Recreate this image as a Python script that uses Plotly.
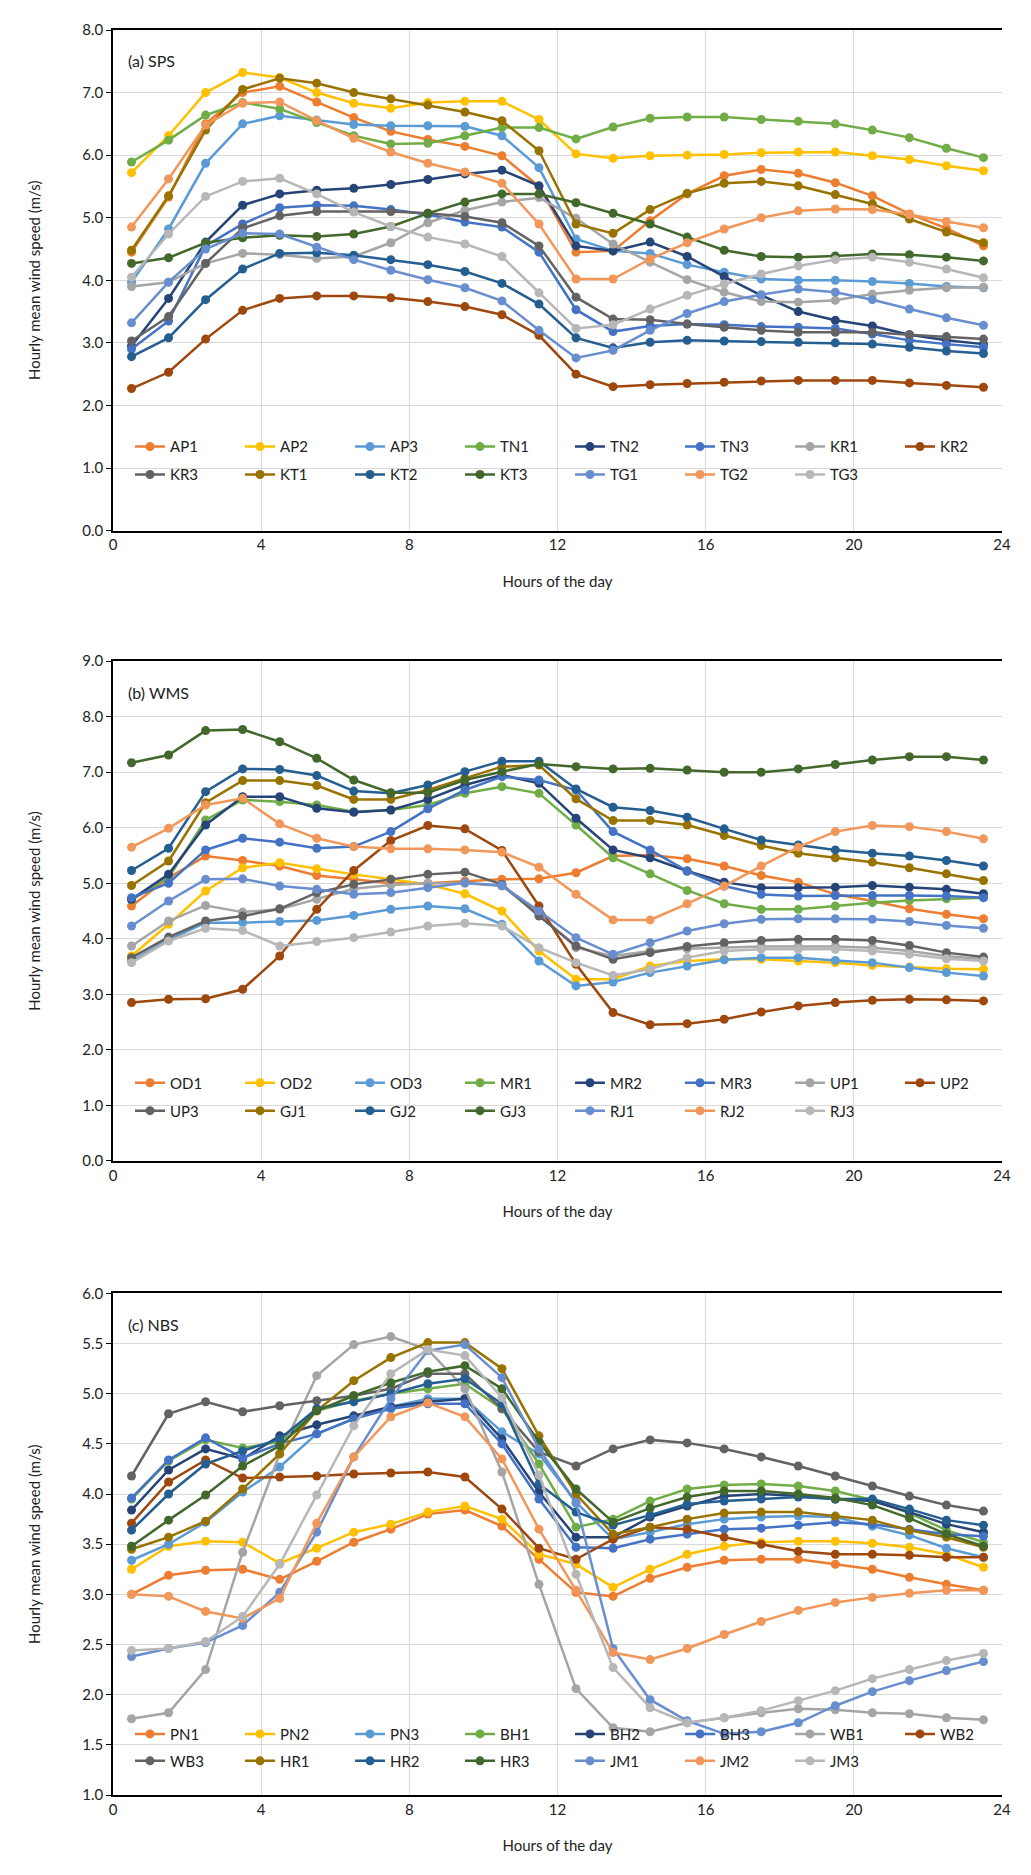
import plotly.graph_objects as go

# hour of day (mid-hour points)
hours = [h + 0.5 for h in range(24)]

# Excel office palette, same order in all three panels
colors = ["#ED7D31", "#FFC000", "#5B9BD5", "#70AD47", "#264478", "#4472C4", "#A5A5A5", "#9E480E",
          "#636363", "#997300", "#255E91", "#43682B", "#698ED0", "#F1975A", "#B7B7B7"]

# ---- (a) SPS
AP1 = [4.45, 5.33, 6.5, 7.0, 7.1, 6.85, 6.6, 6.38, 6.25, 6.14, 5.99, 5.5, 4.45, 4.47, 4.95, 5.38, 5.67, 5.77, 5.71, 5.56, 5.35, 5.06, 4.83, 4.55]
AP2 = [5.72, 6.31, 7.0, 7.32, 7.24, 7.0, 6.83, 6.75, 6.84, 6.86, 6.86, 6.57, 6.02, 5.95, 5.99, 6.0, 6.01, 6.04, 6.05, 6.05, 5.99, 5.93, 5.83, 5.75]
AP3 = [3.97, 4.82, 5.87, 6.5, 6.63, 6.56, 6.49, 6.47, 6.47, 6.46, 6.31, 5.8, 4.66, 4.47, 4.43, 4.25, 4.13, 4.02, 4.0, 4.0, 3.98, 3.95, 3.9, 3.88]
TN1 = [5.89, 6.24, 6.64, 6.84, 6.74, 6.52, 6.31, 6.18, 6.19, 6.31, 6.44, 6.44, 6.26, 6.45, 6.59, 6.61, 6.61, 6.57, 6.54, 6.5, 6.4, 6.28, 6.11, 5.96]
TN2 = [2.95, 3.71, 4.61, 5.2, 5.38, 5.44, 5.47, 5.53, 5.61, 5.7, 5.76, 5.51, 4.55, 4.47, 4.61, 4.38, 4.06, 3.76, 3.5, 3.36, 3.27, 3.13, 3.04, 2.98]
TN3 = [2.9, 3.35, 4.55, 4.9, 5.16, 5.2, 5.19, 5.13, 5.05, 4.93, 4.85, 4.45, 3.53, 3.18, 3.27, 3.3, 3.29, 3.26, 3.25, 3.23, 3.14, 3.04, 2.98, 2.93]
KR1 = [3.9, 3.97, 4.27, 4.43, 4.41, 4.35, 4.38, 4.6, 4.92, 5.12, 5.25, 5.32, 4.99, 4.58, 4.29, 4.01, 3.81, 3.66, 3.65, 3.68, 3.78, 3.84, 3.88, 3.89]
KR2 = [2.27, 2.53, 3.06, 3.52, 3.71, 3.75, 3.75, 3.72, 3.66, 3.58, 3.45, 3.12, 2.5, 2.3, 2.33, 2.35, 2.37, 2.39, 2.4, 2.4, 2.4, 2.36, 2.32, 2.29]
KR3 = [3.03, 3.42, 4.27, 4.83, 5.03, 5.1, 5.1, 5.1, 5.07, 5.02, 4.92, 4.55, 3.73, 3.38, 3.37, 3.3, 3.25, 3.2, 3.17, 3.17, 3.17, 3.13, 3.1, 3.06]
KT1 = [4.48, 5.35, 6.4, 7.05, 7.23, 7.15, 7.0, 6.9, 6.8, 6.69, 6.55, 6.07, 4.9, 4.75, 5.13, 5.39, 5.55, 5.58, 5.51, 5.37, 5.22, 4.98, 4.77, 4.6]
KT2 = [2.78, 3.08, 3.69, 4.18, 4.43, 4.44, 4.4, 4.33, 4.25, 4.14, 3.95, 3.62, 3.08, 2.92, 3.01, 3.04, 3.03, 3.02, 3.01, 3.0, 2.98, 2.93, 2.87, 2.83]
KT3 = [4.27, 4.36, 4.6, 4.68, 4.72, 4.7, 4.74, 4.86, 5.07, 5.25, 5.38, 5.38, 5.24, 5.07, 4.9, 4.69, 4.48, 4.38, 4.37, 4.39, 4.42, 4.41, 4.37, 4.31]
TG1 = [3.32, 3.97, 4.5, 4.75, 4.74, 4.53, 4.33, 4.16, 4.01, 3.88, 3.67, 3.2, 2.76, 2.88, 3.2, 3.47, 3.66, 3.77, 3.86, 3.81, 3.69, 3.54, 3.4, 3.28]
TG2 = [4.85, 5.62, 6.48, 6.83, 6.85, 6.55, 6.27, 6.05, 5.87, 5.73, 5.55, 4.9, 4.02, 4.02, 4.34, 4.6, 4.82, 5.0, 5.11, 5.14, 5.13, 5.05, 4.94, 4.84]
TG3 = [4.05, 4.74, 5.34, 5.58, 5.63, 5.38, 5.09, 4.86, 4.69, 4.58, 4.38, 3.8, 3.23, 3.29, 3.54, 3.76, 3.94, 4.1, 4.23, 4.33, 4.37, 4.29, 4.18, 4.04]

# ---- (b) WMS
OD1 = [4.59, 5.1, 5.49, 5.41, 5.31, 5.14, 5.07, 5.0, 5.0, 5.04, 5.07, 5.08, 5.19, 5.49, 5.51, 5.44, 5.31, 5.14, 5.02, 4.8, 4.68, 4.54, 4.44, 4.36]
OD2 = [3.69, 4.26, 4.86, 5.28, 5.37, 5.26, 5.16, 5.07, 4.98, 4.81, 4.5, 3.78, 3.27, 3.27, 3.51, 3.6, 3.63, 3.63, 3.6, 3.57, 3.52, 3.49, 3.46, 3.45]
OD3 = [3.6, 3.98, 4.29, 4.29, 4.31, 4.33, 4.42, 4.53, 4.59, 4.54, 4.26, 3.6, 3.15, 3.22, 3.39, 3.51, 3.62, 3.66, 3.66, 3.61, 3.57, 3.48, 3.39, 3.33]
MR1 = [4.7, 5.1, 6.14, 6.5, 6.47, 6.41, 6.29, 6.32, 6.41, 6.62, 6.74, 6.62, 6.05, 5.46, 5.17, 4.87, 4.63, 4.53, 4.53, 4.59, 4.65, 4.69, 4.72, 4.74]
MR2 = [4.71, 5.16, 6.05, 6.56, 6.56, 6.35, 6.28, 6.32, 6.51, 6.77, 6.95, 6.8, 6.17, 5.6, 5.46, 5.22, 5.02, 4.92, 4.92, 4.93, 4.96, 4.93, 4.89, 4.81]
MR3 = [4.74, 5.0, 5.6, 5.81, 5.74, 5.63, 5.66, 5.93, 6.34, 6.68, 6.92, 6.86, 6.68, 5.93, 5.6, 5.22, 4.95, 4.8, 4.77, 4.78, 4.78, 4.78, 4.77, 4.74]
UP1 = [3.87, 4.32, 4.6, 4.48, 4.53, 4.71, 4.9, 4.97, 5.0, 5.0, 4.95, 4.45, 3.84, 3.69, 3.78, 3.82, 3.84, 3.86, 3.86, 3.86, 3.84, 3.78, 3.69, 3.63]
UP2 = [2.85, 2.91, 2.92, 3.09, 3.69, 4.53, 5.23, 5.77, 6.04, 5.98, 5.59, 4.59, 3.54, 2.67, 2.45, 2.47, 2.55, 2.68, 2.79, 2.85, 2.89, 2.91, 2.9, 2.88]
UP3 = [3.66, 4.03, 4.32, 4.41, 4.54, 4.83, 4.98, 5.07, 5.16, 5.2, 4.98, 4.41, 3.87, 3.63, 3.75, 3.86, 3.93, 3.97, 3.99, 3.99, 3.97, 3.88, 3.75, 3.67]
GJ1 = [4.96, 5.4, 6.45, 6.85, 6.85, 6.76, 6.51, 6.51, 6.68, 6.89, 7.1, 7.13, 6.52, 6.13, 6.13, 6.05, 5.86, 5.68, 5.54, 5.46, 5.38, 5.28, 5.17, 5.05]
GJ2 = [5.23, 5.63, 6.65, 7.06, 7.05, 6.94, 6.66, 6.62, 6.77, 7.01, 7.2, 7.2, 6.7, 6.37, 6.31, 6.19, 5.98, 5.78, 5.69, 5.6, 5.54, 5.49, 5.41, 5.31]
GJ3 = [7.17, 7.31, 7.75, 7.77, 7.55, 7.25, 6.86, 6.63, 6.63, 6.86, 7.01, 7.15, 7.1, 7.06, 7.07, 7.04, 7.0, 7.0, 7.06, 7.14, 7.22, 7.28, 7.28, 7.22]
RJ1 = [4.23, 4.68, 5.07, 5.08, 4.95, 4.89, 4.8, 4.83, 4.92, 5.01, 4.96, 4.5, 4.02, 3.72, 3.93, 4.14, 4.27, 4.35, 4.36, 4.36, 4.35, 4.31, 4.24, 4.19]
RJ2 = [5.65, 5.99, 6.41, 6.53, 6.07, 5.81, 5.66, 5.62, 5.62, 5.6, 5.56, 5.29, 4.8, 4.34, 4.34, 4.63, 4.95, 5.31, 5.65, 5.93, 6.04, 6.02, 5.93, 5.8]
RJ3 = [3.57, 3.96, 4.19, 4.15, 3.87, 3.95, 4.02, 4.12, 4.23, 4.28, 4.23, 3.84, 3.57, 3.34, 3.45, 3.66, 3.78, 3.81, 3.81, 3.81, 3.78, 3.72, 3.64, 3.6]

# ---- (c) NBS
PN1 = [3.0, 3.19, 3.24, 3.25, 3.15, 3.33, 3.52, 3.65, 3.8, 3.84, 3.68, 3.35, 3.02, 2.98, 3.16, 3.27, 3.34, 3.35, 3.35, 3.3, 3.25, 3.17, 3.1, 3.04]
PN2 = [3.25, 3.48, 3.53, 3.52, 3.31, 3.46, 3.62, 3.7, 3.82, 3.88, 3.75, 3.4, 3.3, 3.07, 3.25, 3.4, 3.48, 3.52, 3.53, 3.53, 3.51, 3.47, 3.4, 3.27]
PN3 = [3.34, 3.5, 3.72, 4.02, 4.27, 4.6, 4.75, 4.87, 4.95, 4.95, 4.62, 4.4, 3.92, 3.55, 3.62, 3.7, 3.75, 3.77, 3.78, 3.77, 3.68, 3.59, 3.46, 3.37]
BH1 = [3.95, 4.33, 4.54, 4.46, 4.52, 4.83, 4.93, 5.0, 5.05, 5.1, 4.85, 4.3, 3.67, 3.75, 3.93, 4.05, 4.09, 4.1, 4.08, 4.03, 3.94, 3.81, 3.64, 3.52]
BH2 = [3.84, 4.24, 4.45, 4.35, 4.58, 4.69, 4.78, 4.87, 4.92, 4.95, 4.55, 4.02, 3.57, 3.57, 3.77, 3.88, 3.98, 4.0, 3.98, 3.95, 3.93, 3.82, 3.7, 3.62]
BH3 = [3.96, 4.34, 4.56, 4.36, 4.5, 4.6, 4.75, 4.85, 4.9, 4.9, 4.5, 3.95, 3.47, 3.46, 3.55, 3.6, 3.65, 3.66, 3.69, 3.72, 3.7, 3.65, 3.6, 3.58]
WB1 = [1.76, 1.82, 2.25, 3.42, 4.4, 5.18, 5.49, 5.57, 5.44, 5.05, 4.22, 3.1, 2.06, 1.67, 1.63, 1.72, 1.77, 1.82, 1.86, 1.85, 1.82, 1.81, 1.77, 1.75]
WB2 = [3.71, 4.12, 4.34, 4.16, 4.17, 4.18, 4.2, 4.21, 4.22, 4.17, 3.85, 3.46, 3.35, 3.55, 3.67, 3.65, 3.57, 3.5, 3.43, 3.4, 3.4, 3.39, 3.37, 3.37]
WB3 = [4.18, 4.8, 4.92, 4.82, 4.88, 4.93, 4.98, 5.05, 5.2, 5.2, 4.85, 4.42, 4.28, 4.45, 4.54, 4.51, 4.45, 4.37, 4.28, 4.18, 4.08, 3.98, 3.89, 3.83]
HR1 = [3.45, 3.57, 3.73, 4.05, 4.4, 4.83, 5.13, 5.36, 5.51, 5.51, 5.25, 4.58, 4.0, 3.6, 3.67, 3.75, 3.81, 3.82, 3.82, 3.78, 3.74, 3.64, 3.57, 3.47]
HR2 = [3.64, 4.0, 4.3, 4.43, 4.55, 4.85, 4.92, 5.0, 5.1, 5.15, 4.9, 4.1, 3.82, 3.69, 3.79, 3.9, 3.93, 3.95, 3.97, 3.95, 3.95, 3.85, 3.74, 3.69]
HR3 = [3.48, 3.74, 3.99, 4.28, 4.48, 4.83, 4.98, 5.11, 5.22, 5.28, 5.05, 4.52, 4.05, 3.72, 3.86, 3.97, 4.03, 4.03, 4.0, 3.96, 3.89, 3.76, 3.6, 3.48]
JM1 = [2.38, 2.46, 2.52, 2.69, 3.02, 3.62, 4.37, 4.95, 5.43, 5.49, 5.16, 4.45, 3.91, 2.46, 1.95, 1.74, 1.61, 1.63, 1.72, 1.89, 2.03, 2.14, 2.24, 2.33]
JM2 = [3.0, 2.98, 2.83, 2.76, 2.96, 3.71, 4.37, 4.77, 4.91, 4.77, 4.35, 3.65, 3.04, 2.42, 2.35, 2.46, 2.6, 2.73, 2.84, 2.92, 2.97, 3.01, 3.04, 3.04]
JM3 = [2.44, 2.46, 2.53, 2.78, 3.3, 3.99, 4.68, 5.2, 5.44, 5.38, 4.96, 4.19, 3.2, 2.27, 1.87, 1.72, 1.77, 1.84, 1.94, 2.04, 2.16, 2.25, 2.34, 2.41]

panels = [
    (["AP1", "AP2", "AP3", "TN1", "TN2", "TN3", "KR1", "KR2", "KR3", "KT1", "KT2", "KT3", "TG1", "TG2", "TG3"],
     [AP1, AP2, AP3, TN1, TN2, TN3, KR1, KR2, KR3, KT1, KT2, KT3, TG1, TG2, TG3]),
    (["OD1", "OD2", "OD3", "MR1", "MR2", "MR3", "UP1", "UP2", "UP3", "GJ1", "GJ2", "GJ3", "RJ1", "RJ2", "RJ3"],
     [OD1, OD2, OD3, MR1, MR2, MR3, UP1, UP2, UP3, GJ1, GJ2, GJ3, RJ1, RJ2, RJ3]),
    (["PN1", "PN2", "PN3", "BH1", "BH2", "BH3", "WB1", "WB2", "WB3", "HR1", "HR2", "HR3", "JM1", "JM2", "JM3"],
     [PN1, PN2, PN3, BH1, BH2, BH3, WB1, WB2, WB3, HR1, HR2, HR3, JM1, JM2, JM3]),
]
labels = ["(a) SPS", "(b) WMS", "(c) NBS"]
yranges = [[0, 8], [0, 9], [1, 6]]
ydticks = [1, 1, 0.5]

# pixel layout of the reference page (plot area spans y 17..1787)
W, H = 1031, 1875
ML, MR, MT, MB = 105, 37, 17, 88
ph = H - MT - MB
tops = [17, 650, 1284]
bots = [519, 1151, 1787]
# legend row centres (px from top), two rows per panel
rows = [[435, 463], [1073, 1101], [1726, 1753]]

font = "Lato, 'Open Sans', sans-serif"
fig = go.Figure()

for p in range(3):
    names, series = panels[p]
    sfx = "" if p == 0 else str(p + 1)
    for i in range(len(names)):
        leg = 2 * p + (1 if i < 8 else 2)
        fig.add_trace(go.Scatter(
            x=hours, y=series[i], name=names[i], mode="lines+markers",
            line=dict(color=colors[i], width=2.5),
            marker=dict(color=colors[i], size=9),
            xaxis="x" + sfx, yaxis="y" + sfx,
            legend="legend" if leg == 1 else "legend" + str(leg),
        ))

    dom = [(H - MB - bots[p]) / ph, (H - MB - tops[p]) / ph]
    fig.layout["xaxis" + sfx] = dict(
        domain=[0, 1], anchor="y" + sfx, range=[0, 24], tickvals=list(range(0, 25, 4)),
        showgrid=True, gridcolor="#D9D9D9", gridwidth=1.3, zeroline=False,
        showline=True, linecolor="black", linewidth=1.5, mirror=True, ticks="",
        title=dict(text="Hours of the day", font=dict(size=15, color="#222"), standoff=24),
        tickfont=dict(size=15, color="#222"),
    )
    fig.layout["yaxis" + sfx] = dict(
        domain=dom, anchor="x" + sfx, range=yranges[p], dtick=ydticks[p], tickformat=".1f",
        showgrid=True, gridcolor="#D9D9D9", gridwidth=1.3, zeroline=False,
        showline=True, linecolor="black", linewidth=1.5, ticks="outside", ticklen=5, tickcolor="black",
        title=dict(text="Hourly mean wind speed (m/s)", font=dict(size=15, color="#222"), standoff=38),
        tickfont=dict(size=15, color="#222"),
    )
    for r in range(2):
        leg = 2 * p + r + 1
        fig.layout["legend" if leg == 1 else "legend" + str(leg)] = dict(
            orientation="h", x=(122 - ML) / (W - ML - MR), xanchor="left",
            y=(H - MB - rows[p][r]) / ph, yanchor="middle",
            entrywidth=65, entrywidthmode="pixels", bgcolor="rgba(0,0,0,0)",
            font=dict(size=15, color="#222"), traceorder="normal",
        )
    fig.add_annotation(
        text=labels[p], xref="x" + sfx + " domain", yref="y" + sfx + " domain",
        x=(118 - ML) / (W - ML - MR), y=(bots[p] - 48 - (tops[p] - 17)) / (bots[p] - tops[p]),
        xanchor="left", yanchor="middle", showarrow=False, font=dict(size=16, color="#222"),
    )

fig.update_layout(
    width=W, height=H, margin=dict(l=ML, r=MR, t=MT, b=MB),
    paper_bgcolor="white", plot_bgcolor="white", font=dict(family=font),
    showlegend=True,
)

fig.write_html("out.html")
